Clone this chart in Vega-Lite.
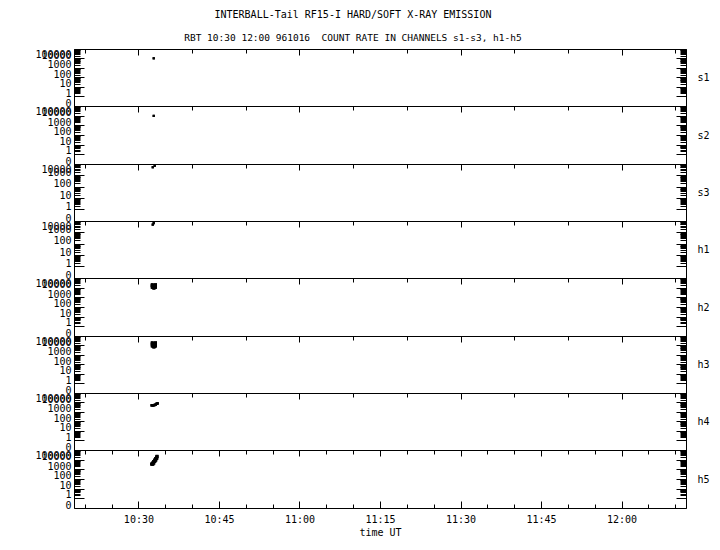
{
  "$schema": "https://vega.github.io/schema/vega-lite/v6.json",
  "padding": {"left": 34, "top": 10, "right": 5, "bottom": 5},
  "title": {
    "text": "INTERBALL-Tail RF15-I HARD/SOFT X-RAY EMISSION",
    "subtitle": "RBT 10:30 12:00 961016\u00a0 COUNT RATE IN CHANNELS s1-s3, h1-h5",
    "anchor": "middle",
    "dx": -19,
    "offset": -2
  },
  "data": {
    "values": [
      {"ch": "s1", "t": "1996-10-16T10:32:51Z", "v": 10500},
      {"ch": "s2", "t": "1996-10-16T10:32:51Z", "v": 9500},
      {"ch": "s3", "t": "1996-10-16T10:32:40Z", "v": 5200},
      {"ch": "s3", "t": "1996-10-16T10:33:02Z", "v": 7000},
      {"ch": "h1", "t": "1996-10-16T10:32:40Z", "v": 4800},
      {"ch": "h1", "t": "1996-10-16T10:32:51Z", "v": 6500},
      {"ch": "h2", "t": "1996-10-16T10:32:35Z", "v": 11000},
      {"ch": "h2", "t": "1996-10-16T10:32:47Z", "v": 10500},
      {"ch": "h2", "t": "1996-10-16T10:32:59Z", "v": 10500},
      {"ch": "h2", "t": "1996-10-16T10:33:11Z", "v": 11000},
      {"ch": "h2", "t": "1996-10-16T10:32:35Z", "v": 16000},
      {"ch": "h2", "t": "1996-10-16T10:32:47Z", "v": 15000},
      {"ch": "h2", "t": "1996-10-16T10:32:59Z", "v": 14000},
      {"ch": "h2", "t": "1996-10-16T10:33:11Z", "v": 16000},
      {"ch": "h2", "t": "1996-10-16T10:32:35Z", "v": 20000},
      {"ch": "h2", "t": "1996-10-16T10:33:11Z", "v": 20000},
      {"ch": "h2", "t": "1996-10-16T10:32:53Z", "v": 9000},
      {"ch": "h3", "t": "1996-10-16T10:32:35Z", "v": 9000},
      {"ch": "h3", "t": "1996-10-16T10:32:47Z", "v": 8500},
      {"ch": "h3", "t": "1996-10-16T10:32:59Z", "v": 8500},
      {"ch": "h3", "t": "1996-10-16T10:33:11Z", "v": 9000},
      {"ch": "h3", "t": "1996-10-16T10:32:35Z", "v": 14000},
      {"ch": "h3", "t": "1996-10-16T10:32:47Z", "v": 13000},
      {"ch": "h3", "t": "1996-10-16T10:32:59Z", "v": 13000},
      {"ch": "h3", "t": "1996-10-16T10:33:11Z", "v": 14000},
      {"ch": "h3", "t": "1996-10-16T10:32:35Z", "v": 19000},
      {"ch": "h3", "t": "1996-10-16T10:33:11Z", "v": 19000},
      {"ch": "h3", "t": "1996-10-16T10:32:53Z", "v": 7000},
      {"ch": "h4", "t": "1996-10-16T10:32:28Z", "v": 5000},
      {"ch": "h4", "t": "1996-10-16T10:32:40Z", "v": 5000},
      {"ch": "h4", "t": "1996-10-16T10:32:51Z", "v": 5200},
      {"ch": "h4", "t": "1996-10-16T10:33:02Z", "v": 5500},
      {"ch": "h4", "t": "1996-10-16T10:33:13Z", "v": 6000},
      {"ch": "h4", "t": "1996-10-16T10:33:24Z", "v": 7500},
      {"ch": "h4", "t": "1996-10-16T10:33:35Z", "v": 8000},
      {"ch": "h5", "t": "1996-10-16T10:32:28Z", "v": 3500},
      {"ch": "h5", "t": "1996-10-16T10:32:40Z", "v": 4500},
      {"ch": "h5", "t": "1996-10-16T10:32:51Z", "v": 6500},
      {"ch": "h5", "t": "1996-10-16T10:33:02Z", "v": 9000},
      {"ch": "h5", "t": "1996-10-16T10:33:13Z", "v": 13000},
      {"ch": "h5", "t": "1996-10-16T10:33:24Z", "v": 18000},
      {"ch": "h5", "t": "1996-10-16T10:33:28Z", "v": 22000},
      {"ch": "h5", "t": "1996-10-16T10:32:40Z", "v": 3400},
      {"ch": "h5", "t": "1996-10-16T10:32:51Z", "v": 4500},
      {"ch": "h5", "t": "1996-10-16T10:33:02Z", "v": 6500},
      {"ch": "h5", "t": "1996-10-16T10:33:13Z", "v": 9000},
      {"ch": "h5", "t": "1996-10-16T10:33:24Z", "v": 13000}
    ]
  },
  "spacing": 0,
  "bounds": "flush",
  "resolve": {"scale": {"y": "independent"}},
  "vconcat": [
    {
      "width": 612, "height": 57,
      "transform": [{"filter": "datum.ch == 's1'"}],
      "layer": [
        {"mark": {"type": "square", "size": 5, "color": "black", "opacity": 1},
         "encoding": {
           "x": {"field": "t", "type": "temporal", "scale": {"type": "utc", "domain": [845461080000, 845467920000]},
             "axis": {"orient": "top", "labels": false, "title": null, "values": [845461200000,845461500000,845461800000,845462100000,845462400000,845462700000,845463000000,845463300000,845463600000,845463900000,845464200000,845464500000,845464800000,845465100000,845465400000,845465700000,845466000000,845466300000,845466600000,845466900000,845467200000,845467500000,845467800000], "tickSize": {"condition": {"test": "utcminutes(datum.value) % 15 == 0", "value": -6}, "value": -4}}},
           "y": {"field": "v", "type": "quantitative", "scale": {"type": "symlog", "constant": 0.1, "domain": [0, 100000]},
             "axis": {"orient": "left", "title": null, "values": [0,1,2,3,4,5,6,7,8,9,10,20,30,40,50,60,70,80,90,100,200,300,400,500,600,700,800,900,1000,2000,3000,4000,5000,6000,7000,8000,9000,10000,20000,30000,40000,50000,60000,70000,80000,90000,100000], "labelExpr": "indexof([0,1,10,100,1000,10000,100000], datum.value) >= 0 ? '' + datum.value : ''", "labelOverlap": false, "labelFlush": false, "labelBound": false, "labelPadding": 13, "labelBaseline": {"condition": {"test": "datum.value == 100000", "value": "top"}, "value": "alphabetic"}, "tickSize": {"condition": {"test": "indexof([0,1,10,100,1000,10000,100000], datum.value) >= 0", "value": -10}, "value": -6}}}
         }},
        {"mark": {"type": "square", "size": 5, "color": "black", "opacity": 1},
         "encoding": {
           "x": {"field": "t", "type": "temporal"},
           "y": {"field": "v", "type": "quantitative",
             "axis": {"orient": "right", "title": "s1", "titleAngle": 0, "titleX": 11, "titleY": 28, "titleAlign": "left", "titleBaseline": "middle", "labels": false, "values": [0,1,2,3,4,5,6,7,8,9,10,20,30,40,50,60,70,80,90,100,200,300,400,500,600,700,800,900,1000,2000,3000,4000,5000,6000,7000,8000,9000,10000,20000,30000,40000,50000,60000,70000,80000,90000,100000], "tickSize": {"condition": {"test": "indexof([0,1,10,100,1000,10000,100000], datum.value) >= 0", "value": -10}, "value": -6}}}
         }}
      ],
      "resolve": {"axis": {"y": "independent"}}
    },
    {
      "width": 612, "height": 58,
      "transform": [{"filter": "datum.ch == 's2'"}],
      "layer": [
        {"mark": {"type": "square", "size": 5, "color": "black", "opacity": 1},
         "encoding": {
           "x": {"field": "t", "type": "temporal", "scale": {"type": "utc", "domain": [845461080000, 845467920000]},
             "axis": {"orient": "top", "labels": false, "title": null, "values": [845461200000,845461500000,845461800000,845462100000,845462400000,845462700000,845463000000,845463300000,845463600000,845463900000,845464200000,845464500000,845464800000,845465100000,845465400000,845465700000,845466000000,845466300000,845466600000,845466900000,845467200000,845467500000,845467800000], "tickSize": {"condition": {"test": "utcminutes(datum.value) % 15 == 0", "value": -6}, "value": -4}}},
           "y": {"field": "v", "type": "quantitative", "scale": {"type": "symlog", "constant": 0.1, "domain": [0, 100000]},
             "axis": {"orient": "left", "title": null, "values": [0,1,2,3,4,5,6,7,8,9,10,20,30,40,50,60,70,80,90,100,200,300,400,500,600,700,800,900,1000,2000,3000,4000,5000,6000,7000,8000,9000,10000,20000,30000,40000,50000,60000,70000,80000,90000,100000], "labelExpr": "indexof([0,1,10,100,1000,10000,100000], datum.value) >= 0 ? '' + datum.value : ''", "labelOverlap": false, "labelFlush": false, "labelBound": false, "labelPadding": 13, "labelBaseline": {"condition": {"test": "datum.value == 100000", "value": "top"}, "value": "alphabetic"}, "tickSize": {"condition": {"test": "indexof([0,1,10,100,1000,10000,100000], datum.value) >= 0", "value": -10}, "value": -6}}}
         }},
        {"mark": {"type": "square", "size": 5, "color": "black", "opacity": 1},
         "encoding": {
           "x": {"field": "t", "type": "temporal"},
           "y": {"field": "v", "type": "quantitative",
             "axis": {"orient": "right", "title": "s2", "titleAngle": 0, "titleX": 11, "titleY": 29, "titleAlign": "left", "titleBaseline": "middle", "labels": false, "values": [0,1,2,3,4,5,6,7,8,9,10,20,30,40,50,60,70,80,90,100,200,300,400,500,600,700,800,900,1000,2000,3000,4000,5000,6000,7000,8000,9000,10000,20000,30000,40000,50000,60000,70000,80000,90000,100000], "tickSize": {"condition": {"test": "indexof([0,1,10,100,1000,10000,100000], datum.value) >= 0", "value": -10}, "value": -6}}}
         }}
      ],
      "resolve": {"axis": {"y": "independent"}}
    },
    {
      "width": 612, "height": 57,
      "transform": [{"filter": "datum.ch == 's3'"}],
      "layer": [
        {"mark": {"type": "square", "size": 5, "color": "black", "opacity": 1},
         "encoding": {
           "x": {"field": "t", "type": "temporal", "scale": {"type": "utc", "domain": [845461080000, 845467920000]},
             "axis": {"orient": "top", "labels": false, "title": null, "values": [845461200000,845461500000,845461800000,845462100000,845462400000,845462700000,845463000000,845463300000,845463600000,845463900000,845464200000,845464500000,845464800000,845465100000,845465400000,845465700000,845466000000,845466300000,845466600000,845466900000,845467200000,845467500000,845467800000], "tickSize": {"condition": {"test": "utcminutes(datum.value) % 15 == 0", "value": -6}, "value": -4}}},
           "y": {"field": "v", "type": "quantitative", "scale": {"type": "symlog", "constant": 0.1, "domain": [0, 10000]},
             "axis": {"orient": "left", "title": null, "values": [0,1,2,3,4,5,6,7,8,9,10,20,30,40,50,60,70,80,90,100,200,300,400,500,600,700,800,900,1000,2000,3000,4000,5000,6000,7000,8000,9000,10000], "labelExpr": "indexof([0,1,10,100,1000,10000,100000], datum.value) >= 0 ? '' + datum.value : ''", "labelOverlap": false, "labelFlush": false, "labelBound": false, "labelPadding": 13, "labelBaseline": {"condition": {"test": "datum.value == 10000", "value": "top"}, "value": "alphabetic"}, "tickSize": {"condition": {"test": "indexof([0,1,10,100,1000,10000,100000], datum.value) >= 0", "value": -10}, "value": -6}}}
         }},
        {"mark": {"type": "square", "size": 5, "color": "black", "opacity": 1},
         "encoding": {
           "x": {"field": "t", "type": "temporal"},
           "y": {"field": "v", "type": "quantitative",
             "axis": {"orient": "right", "title": "s3", "titleAngle": 0, "titleX": 11, "titleY": 28, "titleAlign": "left", "titleBaseline": "middle", "labels": false, "values": [0,1,2,3,4,5,6,7,8,9,10,20,30,40,50,60,70,80,90,100,200,300,400,500,600,700,800,900,1000,2000,3000,4000,5000,6000,7000,8000,9000,10000], "tickSize": {"condition": {"test": "indexof([0,1,10,100,1000,10000,100000], datum.value) >= 0", "value": -10}, "value": -6}}}
         }}
      ],
      "resolve": {"axis": {"y": "independent"}}
    },
    {
      "width": 612, "height": 57,
      "transform": [{"filter": "datum.ch == 'h1'"}],
      "layer": [
        {"mark": {"type": "square", "size": 5, "color": "black", "opacity": 1},
         "encoding": {
           "x": {"field": "t", "type": "temporal", "scale": {"type": "utc", "domain": [845461080000, 845467920000]},
             "axis": {"orient": "top", "labels": false, "title": null, "values": [845461200000,845461500000,845461800000,845462100000,845462400000,845462700000,845463000000,845463300000,845463600000,845463900000,845464200000,845464500000,845464800000,845465100000,845465400000,845465700000,845466000000,845466300000,845466600000,845466900000,845467200000,845467500000,845467800000], "tickSize": {"condition": {"test": "utcminutes(datum.value) % 15 == 0", "value": -6}, "value": -4}}},
           "y": {"field": "v", "type": "quantitative", "scale": {"type": "symlog", "constant": 0.1, "domain": [0, 10000]},
             "axis": {"orient": "left", "title": null, "values": [0,1,2,3,4,5,6,7,8,9,10,20,30,40,50,60,70,80,90,100,200,300,400,500,600,700,800,900,1000,2000,3000,4000,5000,6000,7000,8000,9000,10000], "labelExpr": "indexof([0,1,10,100,1000,10000,100000], datum.value) >= 0 ? '' + datum.value : ''", "labelOverlap": false, "labelFlush": false, "labelBound": false, "labelPadding": 13, "labelBaseline": {"condition": {"test": "datum.value == 10000", "value": "top"}, "value": "alphabetic"}, "tickSize": {"condition": {"test": "indexof([0,1,10,100,1000,10000,100000], datum.value) >= 0", "value": -10}, "value": -6}}}
         }},
        {"mark": {"type": "square", "size": 5, "color": "black", "opacity": 1},
         "encoding": {
           "x": {"field": "t", "type": "temporal"},
           "y": {"field": "v", "type": "quantitative",
             "axis": {"orient": "right", "title": "h1", "titleAngle": 0, "titleX": 11, "titleY": 28, "titleAlign": "left", "titleBaseline": "middle", "labels": false, "values": [0,1,2,3,4,5,6,7,8,9,10,20,30,40,50,60,70,80,90,100,200,300,400,500,600,700,800,900,1000,2000,3000,4000,5000,6000,7000,8000,9000,10000], "tickSize": {"condition": {"test": "indexof([0,1,10,100,1000,10000,100000], datum.value) >= 0", "value": -10}, "value": -6}}}
         }}
      ],
      "resolve": {"axis": {"y": "independent"}}
    },
    {
      "width": 612, "height": 58,
      "transform": [{"filter": "datum.ch == 'h2'"}],
      "layer": [
        {"mark": {"type": "square", "size": 9, "color": "black", "opacity": 1},
         "encoding": {
           "x": {"field": "t", "type": "temporal", "scale": {"type": "utc", "domain": [845461080000, 845467920000]},
             "axis": {"orient": "top", "labels": false, "title": null, "values": [845461200000,845461500000,845461800000,845462100000,845462400000,845462700000,845463000000,845463300000,845463600000,845463900000,845464200000,845464500000,845464800000,845465100000,845465400000,845465700000,845466000000,845466300000,845466600000,845466900000,845467200000,845467500000,845467800000], "tickSize": {"condition": {"test": "utcminutes(datum.value) % 15 == 0", "value": -6}, "value": -4}}},
           "y": {"field": "v", "type": "quantitative", "scale": {"type": "symlog", "constant": 0.1, "domain": [0, 100000]},
             "axis": {"orient": "left", "title": null, "values": [0,1,2,3,4,5,6,7,8,9,10,20,30,40,50,60,70,80,90,100,200,300,400,500,600,700,800,900,1000,2000,3000,4000,5000,6000,7000,8000,9000,10000,20000,30000,40000,50000,60000,70000,80000,90000,100000], "labelExpr": "indexof([0,1,10,100,1000,10000,100000], datum.value) >= 0 ? '' + datum.value : ''", "labelOverlap": false, "labelFlush": false, "labelBound": false, "labelPadding": 13, "labelBaseline": {"condition": {"test": "datum.value == 100000", "value": "top"}, "value": "alphabetic"}, "tickSize": {"condition": {"test": "indexof([0,1,10,100,1000,10000,100000], datum.value) >= 0", "value": -10}, "value": -6}}}
         }},
        {"mark": {"type": "square", "size": 9, "color": "black", "opacity": 1},
         "encoding": {
           "x": {"field": "t", "type": "temporal"},
           "y": {"field": "v", "type": "quantitative",
             "axis": {"orient": "right", "title": "h2", "titleAngle": 0, "titleX": 11, "titleY": 29, "titleAlign": "left", "titleBaseline": "middle", "labels": false, "values": [0,1,2,3,4,5,6,7,8,9,10,20,30,40,50,60,70,80,90,100,200,300,400,500,600,700,800,900,1000,2000,3000,4000,5000,6000,7000,8000,9000,10000,20000,30000,40000,50000,60000,70000,80000,90000,100000], "tickSize": {"condition": {"test": "indexof([0,1,10,100,1000,10000,100000], datum.value) >= 0", "value": -10}, "value": -6}}}
         }}
      ],
      "resolve": {"axis": {"y": "independent"}}
    },
    {
      "width": 612, "height": 57,
      "transform": [{"filter": "datum.ch == 'h3'"}],
      "layer": [
        {"mark": {"type": "square", "size": 9, "color": "black", "opacity": 1},
         "encoding": {
           "x": {"field": "t", "type": "temporal", "scale": {"type": "utc", "domain": [845461080000, 845467920000]},
             "axis": {"orient": "top", "labels": false, "title": null, "values": [845461200000,845461500000,845461800000,845462100000,845462400000,845462700000,845463000000,845463300000,845463600000,845463900000,845464200000,845464500000,845464800000,845465100000,845465400000,845465700000,845466000000,845466300000,845466600000,845466900000,845467200000,845467500000,845467800000], "tickSize": {"condition": {"test": "utcminutes(datum.value) % 15 == 0", "value": -6}, "value": -4}}},
           "y": {"field": "v", "type": "quantitative", "scale": {"type": "symlog", "constant": 0.1, "domain": [0, 100000]},
             "axis": {"orient": "left", "title": null, "values": [0,1,2,3,4,5,6,7,8,9,10,20,30,40,50,60,70,80,90,100,200,300,400,500,600,700,800,900,1000,2000,3000,4000,5000,6000,7000,8000,9000,10000,20000,30000,40000,50000,60000,70000,80000,90000,100000], "labelExpr": "indexof([0,1,10,100,1000,10000,100000], datum.value) >= 0 ? '' + datum.value : ''", "labelOverlap": false, "labelFlush": false, "labelBound": false, "labelPadding": 13, "labelBaseline": {"condition": {"test": "datum.value == 100000", "value": "top"}, "value": "alphabetic"}, "tickSize": {"condition": {"test": "indexof([0,1,10,100,1000,10000,100000], datum.value) >= 0", "value": -10}, "value": -6}}}
         }},
        {"mark": {"type": "square", "size": 9, "color": "black", "opacity": 1},
         "encoding": {
           "x": {"field": "t", "type": "temporal"},
           "y": {"field": "v", "type": "quantitative",
             "axis": {"orient": "right", "title": "h3", "titleAngle": 0, "titleX": 11, "titleY": 28, "titleAlign": "left", "titleBaseline": "middle", "labels": false, "values": [0,1,2,3,4,5,6,7,8,9,10,20,30,40,50,60,70,80,90,100,200,300,400,500,600,700,800,900,1000,2000,3000,4000,5000,6000,7000,8000,9000,10000,20000,30000,40000,50000,60000,70000,80000,90000,100000], "tickSize": {"condition": {"test": "indexof([0,1,10,100,1000,10000,100000], datum.value) >= 0", "value": -10}, "value": -6}}}
         }}
      ],
      "resolve": {"axis": {"y": "independent"}}
    },
    {
      "width": 612, "height": 57,
      "transform": [{"filter": "datum.ch == 'h4'"}],
      "layer": [
        {"mark": {"type": "square", "size": 6, "color": "black", "opacity": 1},
         "encoding": {
           "x": {"field": "t", "type": "temporal", "scale": {"type": "utc", "domain": [845461080000, 845467920000]},
             "axis": {"orient": "top", "labels": false, "title": null, "values": [845461200000,845461500000,845461800000,845462100000,845462400000,845462700000,845463000000,845463300000,845463600000,845463900000,845464200000,845464500000,845464800000,845465100000,845465400000,845465700000,845466000000,845466300000,845466600000,845466900000,845467200000,845467500000,845467800000], "tickSize": {"condition": {"test": "utcminutes(datum.value) % 15 == 0", "value": -6}, "value": -4}}},
           "y": {"field": "v", "type": "quantitative", "scale": {"type": "symlog", "constant": 0.1, "domain": [0, 100000]},
             "axis": {"orient": "left", "title": null, "values": [0,1,2,3,4,5,6,7,8,9,10,20,30,40,50,60,70,80,90,100,200,300,400,500,600,700,800,900,1000,2000,3000,4000,5000,6000,7000,8000,9000,10000,20000,30000,40000,50000,60000,70000,80000,90000,100000], "labelExpr": "indexof([0,1,10,100,1000,10000,100000], datum.value) >= 0 ? '' + datum.value : ''", "labelOverlap": false, "labelFlush": false, "labelBound": false, "labelPadding": 13, "labelBaseline": {"condition": {"test": "datum.value == 100000", "value": "top"}, "value": "alphabetic"}, "tickSize": {"condition": {"test": "indexof([0,1,10,100,1000,10000,100000], datum.value) >= 0", "value": -10}, "value": -6}}}
         }},
        {"mark": {"type": "square", "size": 6, "color": "black", "opacity": 1},
         "encoding": {
           "x": {"field": "t", "type": "temporal"},
           "y": {"field": "v", "type": "quantitative",
             "axis": {"orient": "right", "title": "h4", "titleAngle": 0, "titleX": 11, "titleY": 28, "titleAlign": "left", "titleBaseline": "middle", "labels": false, "values": [0,1,2,3,4,5,6,7,8,9,10,20,30,40,50,60,70,80,90,100,200,300,400,500,600,700,800,900,1000,2000,3000,4000,5000,6000,7000,8000,9000,10000,20000,30000,40000,50000,60000,70000,80000,90000,100000], "tickSize": {"condition": {"test": "indexof([0,1,10,100,1000,10000,100000], datum.value) >= 0", "value": -10}, "value": -6}}}
         }}
      ],
      "resolve": {"axis": {"y": "independent"}}
    },
    {
      "width": 612, "height": 58,
      "transform": [{"filter": "datum.ch == 'h5'"}],
      "layer": [
        {"mark": {"type": "square", "size": 9, "color": "black", "opacity": 1},
         "encoding": {
           "x": {"field": "t", "type": "temporal", "scale": {"type": "utc", "domain": [845461080000, 845467920000]},
             "axis": {"orient": "top", "labels": false, "title": null, "values": [845461200000,845461500000,845461800000,845462100000,845462400000,845462700000,845463000000,845463300000,845463600000,845463900000,845464200000,845464500000,845464800000,845465100000,845465400000,845465700000,845466000000,845466300000,845466600000,845466900000,845467200000,845467500000,845467800000], "tickSize": {"condition": {"test": "utcminutes(datum.value) % 15 == 0", "value": -6}, "value": -4}}},
           "y": {"field": "v", "type": "quantitative", "scale": {"type": "symlog", "constant": 0.1, "domain": [0, 100000]},
             "axis": {"orient": "left", "title": null, "values": [0,1,2,3,4,5,6,7,8,9,10,20,30,40,50,60,70,80,90,100,200,300,400,500,600,700,800,900,1000,2000,3000,4000,5000,6000,7000,8000,9000,10000,20000,30000,40000,50000,60000,70000,80000,90000,100000], "labelExpr": "indexof([0,1,10,100,1000,10000,100000], datum.value) >= 0 ? '' + datum.value : ''", "labelOverlap": false, "labelFlush": false, "labelBound": false, "labelPadding": 13, "labelBaseline": {"condition": {"test": "datum.value == 100000", "value": "top"}, "value": "alphabetic"}, "tickSize": {"condition": {"test": "indexof([0,1,10,100,1000,10000,100000], datum.value) >= 0", "value": -10}, "value": -6}}}
         }},
        {"mark": {"type": "square", "size": 9, "color": "black", "opacity": 1},
         "encoding": {
           "x": {"field": "t", "type": "temporal",
             "axis": {"orient": "bottom", "title": "time UT", "titlePadding": 0, "values": [845461200000,845461500000,845461800000,845462100000,845462400000,845462700000,845463000000,845463300000,845463600000,845463900000,845464200000,845464500000,845464800000,845465100000,845465400000,845465700000,845466000000,845466300000,845466600000,845466900000,845467200000,845467500000,845467800000], "labelExpr": "utcminutes(datum.value) % 15 == 0 ? utcFormat(datum.value, '%H:%M') : ''", "labelOverlap": false, "labelFlush": false, "labelPadding": 13, "tickSize": {"condition": {"test": "utcminutes(datum.value) % 15 == 0", "value": -7}, "value": -4}}},
           "y": {"field": "v", "type": "quantitative",
             "axis": {"orient": "right", "title": "h5", "titleAngle": 0, "titleX": 11, "titleY": 29, "titleAlign": "left", "titleBaseline": "middle", "labels": false, "values": [0,1,2,3,4,5,6,7,8,9,10,20,30,40,50,60,70,80,90,100,200,300,400,500,600,700,800,900,1000,2000,3000,4000,5000,6000,7000,8000,9000,10000,20000,30000,40000,50000,60000,70000,80000,90000,100000], "tickSize": {"condition": {"test": "indexof([0,1,10,100,1000,10000,100000], datum.value) >= 0", "value": -10}, "value": -6}}}
         }}
      ],
      "resolve": {"axis": {"x": "independent", "y": "independent"}}
    }
  ],
  "config": {
    "background": "white",
    "font": "DejaVu Sans Mono",
    "view": {"stroke": "black", "strokeWidth": 1},
    "axis": {"labelFont": "DejaVu Sans Mono", "labelFontSize": 10, "labelColor": "black", "tickColor": "black", "tickWidth": 1, "domain": false, "grid": false, "titleFont": "DejaVu Sans Mono", "titleFontSize": 10, "titleFontWeight": "normal", "titleColor": "black"},
    "title": {"font": "DejaVu Sans Mono", "fontSize": 10, "fontWeight": "normal", "color": "black", "subtitleFont": "DejaVu Sans Mono", "subtitleFontSize": 9.5, "subtitleColor": "black", "subtitlePadding": 13}
  }
}
